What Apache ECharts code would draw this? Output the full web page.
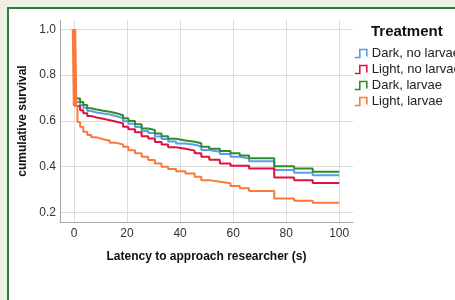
<!DOCTYPE html>
<html>
<head>
<meta charset="utf-8">
<script src="https://cdn.jsdelivr.net/npm/echarts@6/dist/echarts.min.js"></script>
<style>
  html, body { margin: 0; padding: 0; background: #eef0e2; }
  #frame {
    position: absolute; left: 7px; top: 7px; width: 460px; height: 310px;
    background: #fff; border-left: 2px solid #2f7d3c; border-top: 2px solid #2f7d3c;
  }
  #chart { position: absolute; left: 0; top: 0; width: 455px; height: 300px; }
</style>
</head>
<body>
<div id="frame"></div>
<div id="chart"></div>
<script>
  // step times (s) shared by the four survival curves
  var stepTimes = [0, 0.4, 1.3, 2.3, 3.5, 5, 6.5, 8.5, 11, 13.5, 16, 18.5, 20.5, 23, 25.5, 28,
    30.5, 33, 35.5, 38.5, 42, 45.5, 48, 51, 55, 59, 62.5, 66, 75.5, 83, 90, 100];

  var darkNoLarvae = [1.0, 0.683, 0.683, 0.669, 0.657, 0.643, 0.637, 0.632, 0.628, 0.620, 0.612, 0.598,
    0.588, 0.573, 0.556, 0.547, 0.532, 0.521, 0.510, 0.501, 0.496, 0.488, 0.473, 0.465, 0.455, 0.443,
    0.435, 0.424, 0.385, 0.373, 0.362, 0.362];
  var lightNoLarvae = [1.0, 0.665, 0.665, 0.647, 0.633, 0.621, 0.615, 0.609, 0.603, 0.596, 0.589, 0.574,
    0.563, 0.550, 0.533, 0.523, 0.508, 0.497, 0.485, 0.478, 0.470, 0.458, 0.443, 0.430, 0.414, 0.404,
    0.404, 0.392, 0.353, 0.341, 0.329, 0.329];
  var darkLarvae = [1.0, 0.698, 0.698, 0.683, 0.669, 0.655, 0.650, 0.644, 0.640, 0.633, 0.625, 0.611,
    0.600, 0.585, 0.567, 0.560, 0.545, 0.533, 0.522, 0.514, 0.509, 0.502, 0.487, 0.478, 0.468, 0.458,
    0.449, 0.437, 0.402, 0.392, 0.378, 0.378];
  var lightLarvae = [1.0, 0.665, 0.595, 0.574, 0.552, 0.538, 0.528, 0.520, 0.513, 0.504, 0.497, 0.487,
    0.472, 0.458, 0.443, 0.429, 0.414, 0.400, 0.390, 0.380, 0.370, 0.356, 0.341, 0.334, 0.327, 0.315,
    0.305, 0.293, 0.261, 0.251, 0.242, 0.242];

  var groupNames = ['Dark, no larvae', 'Light, no larvae', 'Dark, larvae', 'Light, larvae'];
  var groupColors = ['#5a9ee6', '#e0123f', '#2e8c2e', '#f97a3a'];
  var xTicks = [0, 20, 40, 60, 80, 100];
  var yTicks = [0.2, 0.4, 0.6, 0.8, 1.0];

  var font = '"Liberation Sans", Arial, sans-serif';

  function pairs(vals) {
    return stepTimes.map(function (t, i) { return [t, vals[i]]; });
  }

  var allVals = [darkNoLarvae, lightNoLarvae, darkLarvae, lightLarvae];
  var series = allVals.map(function (vals, i) {
    return {
      name: groupNames[i],
      type: 'line',
      step: 'end',
      showSymbol: false,
      data: pairs(vals),
      lineStyle: { width: 2, color: groupColors[i] },
      itemStyle: { color: groupColors[i] },
      z: 2 + i
    };
  });
  // the first drop of "Light, larvae" is drawn heavy, as in the original
  series.push({
    name: groupNames[3],
    type: 'line',
    step: 'end',
    showSymbol: false,
    data: pairs(lightLarvae).slice(0, 2),
    lineStyle: { width: 4.5, color: groupColors[3] },
    z: 10
  });

  var chart = echarts.init(document.getElementById('chart'), null, { renderer: 'canvas' });
  chart.setOption({
    animation: false,
    backgroundColor: 'transparent',
    title: {
      text: 'Treatment',
      left: 371, top: 24, padding: 0,
      textStyle: { fontFamily: font, fontSize: 15, fontWeight: 'bold', color: '#111' }
    },
    legend: {
      orient: 'vertical',
      left: 354, top: 47, padding: 0,
      itemWidth: 12, itemHeight: 9, itemGap: 3,
      icon: 'path://M0,9 L5,9 L5,1 L12,1 L12,8',
      data: groupNames.map(function (n, i) {
        return { name: n, itemStyle: { color: 'transparent', borderColor: groupColors[i], borderWidth: 1.6 } };
      }),
      textStyle: { fontFamily: font, fontSize: 13, color: '#222' }
    },
    grid: { left: 60, top: 20, right: 102, bottom: 78, containLabel: false },
    xAxis: {
      type: 'value',
      min: -5.28, max: 105.2,
      name: 'Latency to approach researcher (s)',
      nameLocation: 'middle', nameGap: 29,
      nameTextStyle: { fontFamily: font, fontSize: 12, fontWeight: 'bold', color: '#111' },
      axisLine: { show: true, onZero: false, lineStyle: { color: '#a6a6a6', width: 1 } },
      axisTick: { show: false, customValues: xTicks },
      axisLabel: { customValues: xTicks, margin: 6, fontFamily: font, fontSize: 12, color: '#333' },
      splitLine: { show: true, lineStyle: { color: '#dcdcdc', width: 1 } }
    },
    yAxis: {
      type: 'value',
      min: 0.158, max: 1.041,
      name: 'cumulative survival',
      nameLocation: 'middle', nameGap: 26,
      nameTextStyle: { fontFamily: font, fontSize: 12, fontWeight: 'bold', color: '#111' },
      axisLine: { show: true, onZero: false, lineStyle: { color: '#a6a6a6', width: 1 } },
      axisTick: { show: false, customValues: yTicks },
      axisLabel: {
        customValues: yTicks, margin: 4, fontFamily: font, fontSize: 12, color: '#333',
        formatter: function (v) { return v.toFixed(1); }
      },
      splitLine: { show: true, lineStyle: { color: '#dcdcdc', width: 1 } }
    },
    series: series
  });
</script>
</body>
</html>
